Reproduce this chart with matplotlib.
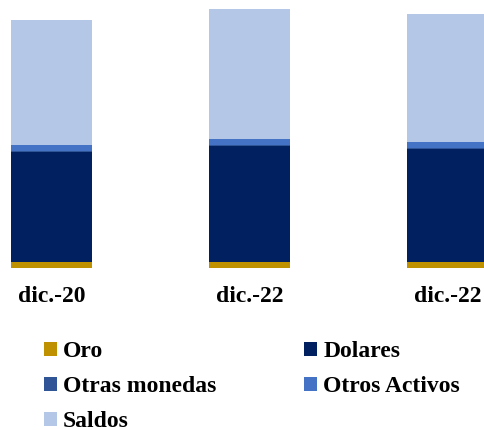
import matplotlib
matplotlib.use("Agg")
import matplotlib.pyplot as plt
from matplotlib.patches import Patch
import numpy as np

categories = ["dic.-20", "dic.-22", "dic.-22"]
oro = [6.0, 6.0, 6.0]
dolares = [110.0, 116.0, 113.0]
otras_monedas = [0.5, 0.5, 0.5]
otros_activos = [6.2, 5.9, 6.2]
saldos = [124.7, 130.6, 127.7]

series = [
    ("Oro", oro, "#BF9000"),
    ("Dolares", dolares, "#002060"),
    ("Otras monedas", otras_monedas, "#2F5597"),
    ("Otros Activos", otros_activos, "#4472C4"),
    ("Saldos", saldos, "#B4C7E7"),
]

plt.rcParams['font.family'] = ['Liberation Serif', 'DejaVu Serif']

fig = plt.figure(figsize=(4.84, 4.30), dpi=100)
ax = fig.add_axes([0, (430 - 267.7) / 430, 1, 267.7 / 430])

x = np.arange(len(categories))
bottom = np.zeros(len(categories))
handles = {}
for name, vals, col in series:
    ax.bar(x, vals, bottom=bottom, width=0.41, color=col, edgecolor='none')
    bottom += np.array(vals)
    handles[name] = Patch(facecolor=col, edgecolor='none')

ax.set_xlim(-0.26, 2.184)
ax.set_ylim(0, 267.7)
ax.set_xticks(x)
ax.set_xticklabels(categories, fontsize=17, fontweight='bold')
ax.tick_params(axis='x', length=0, pad=13.5)
ax.set_yticks([])
for s in ax.spines.values():
    s.set_visible(False)

order = ["Oro", "Otras monedas", "Saldos", "Dolares", "Otros Activos"]
fig.legend([handles[n] for n in order], order, ncol=2,
           loc='upper left', bbox_to_anchor=(44 / 484, (430 - 341) / 430),
           frameon=False, borderpad=0, borderaxespad=0,
           prop={'size': 17, 'weight': 'bold'},
           handlelength=0.55, handleheight=0.55, handletextpad=0.25,
           columnspacing=3.73, labelspacing=0.6)

fig.savefig("out.png", dpi=100)
